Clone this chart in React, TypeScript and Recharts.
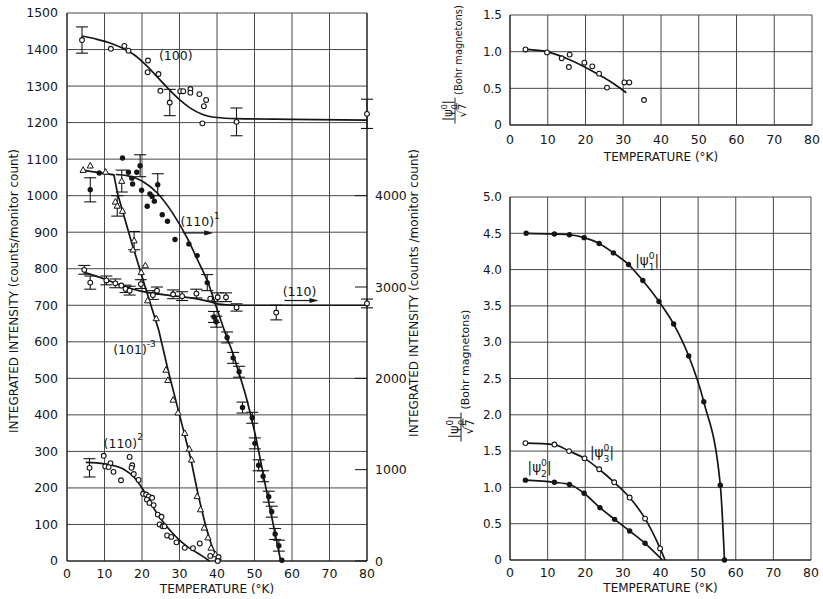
import React from "react";
import {
  ComposedChart,
  Line,
  Scatter,
  XAxis,
  YAxis,
  CartesianGrid,
  ErrorBar,
  ReferenceDot,
  Label,
} from "recharts";

const FONT = "'DejaVu Sans', 'Liberation Sans', sans-serif";
const INK = "#151515";
const GRID = "#484848";

const tempTicks = [0, 10, 20, 30, 40, 50, 60, 70, 80];
const intensityTicks = [0, 100, 200, 300, 400, 500, 600, 700, 800, 900, 1000, 1100, 1200, 1300, 1400, 1500];
const countTicks = [0, 1000, 2000, 3000, 4000];
const psi0Ticks = [0, 0.5, 1, 1.5];
const psiTicks = [0, 0.5, 1, 1.5, 2, 2.5, 3, 3.5, 4, 4.5, 5];

// (100) reflection, left axis
const pts100 = [
  { t: 4, v: 1426, e: 36 }, { t: 11.7, v: 1402 }, { t: 15.3, v: 1410 }, { t: 16.4, v: 1397 },
  { t: 21.6, v: 1370 }, { t: 21.5, v: 1338 }, { t: 24.4, v: 1333 }, { t: 24.9, v: 1287 },
  { t: 27.4, v: 1255, e: 36 }, { t: 30.2, v: 1286 }, { t: 31, v: 1286 }, { t: 32.9, v: 1292 },
  { t: 32.9, v: 1282 }, { t: 35.3, v: 1278 }, { t: 37.1, v: 1262 }, { t: 36.5, v: 1245 },
  { t: 36.1, v: 1198 }, { t: 45.2, v: 1202, e: 38 }, { t: 80, v: 1224, e: 40 },
];
const fit100 = [
  { t: 4, v: 1437 }, { t: 8, v: 1428 }, { t: 12, v: 1416 }, { t: 15, v: 1403 }, { t: 18, v: 1385 },
  { t: 21, v: 1358 }, { t: 24, v: 1326 }, { t: 27, v: 1293 }, { t: 30, v: 1263 }, { t: 33, v: 1239 },
  { t: 36, v: 1223 }, { t: 40, v: 1214 }, { t: 45, v: 1211 }, { t: 60, v: 1209 }, { t: 80, v: 1207 },
];

// (110)^1 reflection, right axis (counts)
const pts110a = [
  { t: 6.2, v: 4064, e: 132 }, { t: 8.6, v: 4248 }, { t: 14.8, v: 4412 }, { t: 16.4, v: 4256 },
  { t: 17.3, v: 4192 }, { t: 17.5, v: 4128 }, { t: 18.6, v: 4256 }, { t: 19.5, v: 4328, e: 120 },
  { t: 19.9, v: 4060 }, { t: 21.4, v: 3884 }, { t: 22.1, v: 4020 }, { t: 22.7, v: 3992 },
  { t: 23.3, v: 3940 }, { t: 24.2, v: 4120, e: 120 }, { t: 25.4, v: 3792 }, { t: 26.8, v: 3720 },
  { t: 28.8, v: 3520 }, { t: 32.5, v: 3472 }, { t: 34.7, v: 3344 }, { t: 37.4, v: 3048, e: 88 },
  { t: 39.2, v: 2672, e: 60 }, { t: 39.8, v: 2620, e: 60 }, { t: 42.7, v: 2448, e: 60 },
  { t: 44.3, v: 2224, e: 60 }, { t: 45.9, v: 2072, e: 60 }, { t: 46.8, v: 1680, e: 60 },
  { t: 49.4, v: 1568, e: 60 }, { t: 50.1, v: 1288, e: 60 }, { t: 51.1, v: 1048, e: 60 },
  { t: 52.3, v: 928, e: 60 }, { t: 53.8, v: 704, e: 60 }, { t: 54.6, v: 540, e: 60 },
  { t: 55.5, v: 296, e: 60 }, { t: 56.5, v: 168, e: 60 }, { t: 57.3, v: 8 },
];
const fit110a = [
  { t: 13, v: 4232 }, { t: 16, v: 4220 }, { t: 20, v: 4160 }, { t: 24, v: 4032 }, { t: 28, v: 3820 },
  { t: 32, v: 3540 }, { t: 35, v: 3280 }, { t: 37.5, v: 3060 }, { t: 40, v: 2760 }, { t: 42, v: 2520 },
  { t: 44, v: 2300 }, { t: 46, v: 2040 }, { t: 48, v: 1760 }, { t: 50, v: 1420 }, { t: 52, v: 1020 },
  { t: 54, v: 600 }, { t: 55.5, v: 300 }, { t: 57, v: 0 },
];

// (110) reflection, right axis (counts)
const pts110 = [
  { t: 4.6, v: 3188, e: 48 }, { t: 6.2, v: 3048, e: 72 }, { t: 10.5, v: 3072, e: 48 },
  { t: 12.9, v: 3040, e: 48 }, { t: 14.5, v: 3016 }, { t: 15.6, v: 2980, e: 40 },
  { t: 16.7, v: 2960, e: 48 }, { t: 19.7, v: 3032, e: 48 }, { t: 22.9, v: 2912, e: 48 },
  { t: 24, v: 2960, e: 40 }, { t: 28.3, v: 2920, e: 48 }, { t: 30.7, v: 2900, e: 48 },
  { t: 34.5, v: 2928, e: 48 }, { t: 38.2, v: 2872 }, { t: 40.2, v: 2888, e: 48 },
  { t: 42.4, v: 2888, e: 48 }, { t: 45.2, v: 2776, e: 40 }, { t: 55.8, v: 2720, e: 80 },
  { t: 80, v: 2820, e: 48 },
];
const fit110 = [
  { t: 4.6, v: 3160 }, { t: 10, v: 3088 }, { t: 15, v: 3008 }, { t: 20, v: 2952 }, { t: 25, v: 2920 },
  { t: 30, v: 2896 }, { t: 35, v: 2868 }, { t: 38, v: 2840 }, { t: 40, v: 2816 }, { t: 45, v: 2800 },
  { t: 80, v: 2800 },
];

// (101)^-3 reflection, left axis
const pts101 = [
  { t: 4.3, v: 1070 }, { t: 6.2, v: 1082 }, { t: 10.3, v: 1065 }, { t: 14.6, v: 1040, e: 30 },
  { t: 12.9, v: 983 }, { t: 13.4, v: 972, e: 28 }, { t: 14.8, v: 958 }, { t: 17.9, v: 877, e: 25 },
  { t: 17.6, v: 852 }, { t: 19.8, v: 790 }, { t: 20.9, v: 809 }, { t: 21.5, v: 713 },
  { t: 23.8, v: 664 }, { t: 26.4, v: 523 }, { t: 26.9, v: 495 }, { t: 28.3, v: 441 },
  { t: 29.6, v: 406 }, { t: 31.4, v: 350 }, { t: 32.6, v: 307 }, { t: 33.2, v: 277 },
  { t: 34.7, v: 177 }, { t: 35.6, v: 141 }, { t: 36.6, v: 91 }, { t: 37.6, v: 64 },
  { t: 38.4, v: 36 }, { t: 39.6, v: 18 }, { t: 40.3, v: 9 },
];
const fit101 = [
  { t: 4, v: 1070 }, { t: 8, v: 1064 }, { t: 12.5, v: 1057 }, { t: 13.5, v: 1005 }, { t: 17, v: 880 },
  { t: 21, v: 745 }, { t: 24.5, v: 630 }, { t: 27, v: 520 }, { t: 30, v: 400 }, { t: 33, v: 280 },
  { t: 35, v: 180 }, { t: 37, v: 95 }, { t: 38.5, v: 45 }, { t: 40.3, v: 0 },
];

// (110)^2 reflection, left axis
const pts110b = [
  { t: 6, v: 255, e: 25 }, { t: 9.8, v: 288 }, { t: 10.2, v: 259 }, { t: 11.6, v: 268 },
  { t: 11.1, v: 257 }, { t: 12.4, v: 244 }, { t: 14.4, v: 221 }, { t: 16.7, v: 285 },
  { t: 17.4, v: 262 }, { t: 17.2, v: 255 }, { t: 17.8, v: 238 }, { t: 19.1, v: 222 },
  { t: 20.3, v: 184 }, { t: 21.1, v: 182 }, { t: 21.8, v: 177 }, { t: 21.3, v: 168 },
  { t: 22.7, v: 173 }, { t: 22, v: 159 }, { t: 23.1, v: 153 }, { t: 24.2, v: 127 },
  { t: 25.2, v: 121 }, { t: 24.7, v: 100 }, { t: 25.5, v: 95 }, { t: 26, v: 95 },
  { t: 26.7, v: 70 }, { t: 27.8, v: 66 }, { t: 29.2, v: 51 }, { t: 31.4, v: 36 },
  { t: 33.6, v: 35 }, { t: 35.4, v: 48 }, { t: 38.2, v: 14 }, { t: 40.4, v: 11 }, { t: 40.2, v: 0 },
];
const fit110b = [
  { t: 5, v: 270 }, { t: 10, v: 266 }, { t: 15, v: 252 }, { t: 18, v: 228 }, { t: 20, v: 200 },
  { t: 22, v: 165 }, { t: 24, v: 130 }, { t: 26, v: 102 }, { t: 28, v: 78 }, { t: 30, v: 57 },
  { t: 32, v: 40 }, { t: 34, v: 27 }, { t: 36, v: 14 }, { t: 38, v: 0 },
];

// |psi_0^0| / sqrt7
const ptsPsi0 = [
  { t: 4.1, v: 1.03 }, { t: 9.8, v: 0.99 }, { t: 13.7, v: 0.91 }, { t: 15.8, v: 0.96 },
  { t: 15.6, v: 0.79 }, { t: 19.7, v: 0.85 }, { t: 21.8, v: 0.8 }, { t: 23.6, v: 0.7 },
  { t: 25.7, v: 0.51 }, { t: 30.3, v: 0.58 }, { t: 31.6, v: 0.58 }, { t: 35.5, v: 0.34 },
];
const fitPsi0 = [
  { t: 4.4, v: 1.03 }, { t: 9.7, v: 1.0 }, { t: 15.8, v: 0.89 }, { t: 22, v: 0.73 },
  { t: 27.3, v: 0.57 }, { t: 30.8, v: 0.44 },
];

// |psi_1^0|, |psi_2^0|, |psi_3^0|
const ptsPsi1 = [
  { t: 4.3, v: 4.5 }, { t: 11.8, v: 4.49 }, { t: 15.8, v: 4.48 }, { t: 19.7, v: 4.44 },
  { t: 23.7, v: 4.36 }, { t: 27.5, v: 4.23 }, { t: 31.5, v: 4.07 }, { t: 35.3, v: 3.85 },
  { t: 39.6, v: 3.56 }, { t: 43.5, v: 3.25 }, { t: 47.5, v: 2.81 }, { t: 51.5, v: 2.18 },
  { t: 55.9, v: 1.03 }, { t: 57.0, v: 0 },
];
const ptsPsi3 = [
  { t: 4.1, v: 1.61 }, { t: 11.8, v: 1.59 }, { t: 15.7, v: 1.5 }, { t: 19.8, v: 1.4 },
  { t: 23.7, v: 1.25 }, { t: 27.7, v: 1.07 }, { t: 31.8, v: 0.86 }, { t: 35.9, v: 0.57 },
  { t: 39.9, v: 0.16 },
];
const fitPsi3 = [...ptsPsi3, { t: 41.2, v: 0 }];
const ptsPsi2 = [
  { t: 4.1, v: 1.1 }, { t: 11.8, v: 1.07 }, { t: 15.8, v: 1.04 }, { t: 19.7, v: 0.92 },
  { t: 23.9, v: 0.72 }, { t: 27.8, v: 0.56 }, { t: 31.8, v: 0.4 }, { t: 35.9, v: 0.23 },
];
const fitPsi2 = [...ptsPsi2, { t: 40.5, v: 0 }];

const openCircle = (p: any) => (
  <circle cx={p.cx} cy={p.cy} r={2.4} fill="#fff" stroke={INK} strokeWidth={1.1} />
);
const dotCircle = (p: any) => <circle cx={p.cx} cy={p.cy} r={2.7} fill={INK} />;
const openTriangle = (p: any) => (
  <path
    d={`M${p.cx},${p.cy - 3.3}L${p.cx + 3.1},${p.cy + 2.3}L${p.cx - 3.1},${p.cy + 2.3}Z`}
    fill="#fff"
    stroke={INK}
    strokeWidth={1}
  />
);

const tickStyle = { fill: INK, fontSize: 12.5, fontFamily: FONT };

function tag(text: string, sup?: string) {
  return (p: any) => (
    <text x={p.cx} y={p.cy} textAnchor="middle" dominantBaseline="central" fontFamily={FONT} fontSize={12.5} fill={INK}>
      {text}
      {sup && (
        <tspan dy={-6} fontSize={9}>
          {sup}
        </tspan>
      )}
    </text>
  );
}

function arrow(len: number) {
  return (p: any) => (
    <g>
      <line x1={p.cx} x2={p.cx + len - 6} y1={p.cy} y2={p.cy} stroke={INK} strokeWidth={1.2} />
      <path d={`M${p.cx + len},${p.cy} l-9,-2.6 l0,5.2 Z`} fill={INK} />
    </g>
  );
}

function Psi({ x, y, sub, size = 12 }: { x: number; y: number; sub: string; size?: number }) {
  return (
    <text x={x} y={y} fontFamily={FONT} fontSize={size} fill={INK}>
      |ψ
      <tspan dy={-size * 0.42} fontSize={size * 0.68}>0</tspan>
      <tspan dx={-size * 0.43} dy={size * 0.78} fontSize={size * 0.68}>{sub}</tspan>
      <tspan dy={-size * 0.36}>|</tspan>
    </text>
  );
}

function psiTag(sub: string) {
  return (p: any) => <Psi x={p.cx - 14} y={p.cy + 5} sub={sub} size={13.5} />;
}

function FracLabel({ cx, cy, sub, s = 1 }: { cx: number; cy: number; sub: string; s?: number }) {
  return (
    <g transform={`translate(${cx},${cy}) rotate(-90) scale(${s})`}>
      <Psi x={-60} y={-3} sub={sub} size={13} />
      <line x1={-63} x2={-34} y1={0} y2={0} stroke={INK} strokeWidth={1} />
      <text x={-56} y={12} fontFamily={FONT} fontSize={12} fill={INK}>√</text>
      <line x1={-48.5} x2={-40} y1={2} y2={2} stroke={INK} strokeWidth={0.9} />
      <text x={-48} y={12.5} fontFamily={FONT} fontSize={11.5} fill={INK}>7</text>
      <text x={-31} y={8} fontFamily={FONT} fontSize={11} fill={INK}>(Bohr magnetons)</text>
    </g>
  );
}

const xTitle = (dy: number) => (props: any) => {
  const vb = props.viewBox || {};
  return (
    <text x={vb.x + vb.width / 2} y={vb.y + dy} textAnchor="middle" fontFamily={FONT} fontSize={12} fill={INK}>
      TEMPERATURE (°K)
    </text>
  );
};

const CountTick = (p: any) => {
  const ax = p.x - 8;
  return (
    <g>
      <line x1={ax - 12} x2={ax} y1={p.y} y2={p.y} stroke={INK} strokeWidth={1} />
      <text x={p.x} y={p.y} dy="0.36em" fontFamily={FONT} fontSize={12.5} fill={INK}>
        {p.payload.value}
      </text>
    </g>
  );
};

const psiFmt = (v: number) => (v === 0 ? "0" : v.toFixed(1));

function IntensityChart() {
  return (
    <ComposedChart width={430} height={599} margin={{ top: 13, right: 0, bottom: 0, left: 0 }}>
      <CartesianGrid yAxisId="left" stroke={GRID} strokeWidth={1} />
      <XAxis
        type="number"
        dataKey="t"
        domain={[0, 80]}
        ticks={tempTicks}
        interval={0}
        height={38}
        tickSize={0}
        tickMargin={8}
        tickLine={false}
        axisLine={{ stroke: INK }}
        tick={tickStyle}
      >
        <Label content={xTitle(32)} />
      </XAxis>
      <YAxis
        yAxisId="left"
        type="number"
        domain={[0, 1500]}
        ticks={intensityTicks}
        interval={0}
        width={67}
        tickSize={0}
        tickMargin={9}
        tickLine={false}
        axisLine={{ stroke: INK }}
        tick={tickStyle}
      >
        <Label
          content={(props: any) => {
            const vb = props.viewBox || {};
            const cy = vb.y + vb.height / 2 + 4;
            return (
              <text x={18} y={cy} transform={`rotate(-90, 18, ${cy})`} textAnchor="middle" fontFamily={FONT} fontSize={12} fill={INK}>
                INTEGRATED INTENSITY (counts/monitor count)
              </text>
            );
          }}
        />
      </YAxis>
      <YAxis
        yAxisId="right"
        orientation="right"
        type="number"
        domain={[0, 6000]}
        ticks={countTicks}
        interval={0}
        width={63}
        tickSize={0}
        tickMargin={8}
        tickLine={false}
        axisLine={{ stroke: INK }}
        tick={CountTick}
      >
        <Label
          content={(props: any) => {
            const vb = props.viewBox || {};
            const x = vb.x + 51;
            const cy = vb.y + vb.height / 2 + 6;
            return (
              <text x={x} y={cy} transform={`rotate(-90, ${x}, ${cy})`} textAnchor="middle" fontFamily={FONT} fontSize={12} fill={INK}>
                INTEGRATED INTENSITY (counts /monitor count)
              </text>
            );
          }}
        />
      </YAxis>

      <Line yAxisId="left" data={fit100} dataKey="v" type="monotone" stroke={INK} strokeWidth={1.7} dot={false} isAnimationActive={false} />
      <Line yAxisId="left" data={fit101} dataKey="v" type="linear" stroke={INK} strokeWidth={1.7} dot={false} isAnimationActive={false} />
      <Line yAxisId="left" data={fit110b} dataKey="v" type="monotone" stroke={INK} strokeWidth={1.7} dot={false} isAnimationActive={false} />
      <Line yAxisId="right" data={fit110a} dataKey="v" type="monotone" stroke={INK} strokeWidth={1.7} dot={false} isAnimationActive={false} />
      <Line yAxisId="right" data={fit110} dataKey="v" type="monotone" stroke={INK} strokeWidth={1.7} dot={false} isAnimationActive={false} />

      <Scatter yAxisId="left" data={pts100} dataKey="v" shape={openCircle} isAnimationActive={false}>
        <ErrorBar dataKey="e" direction="y" width={6} stroke={INK} strokeWidth={1.1} />
      </Scatter>
      <Scatter yAxisId="left" data={pts101} dataKey="v" shape={openTriangle} isAnimationActive={false}>
        <ErrorBar dataKey="e" direction="y" width={6} stroke={INK} strokeWidth={1.1} />
      </Scatter>
      <Scatter yAxisId="left" data={pts110b} dataKey="v" shape={openCircle} isAnimationActive={false}>
        <ErrorBar dataKey="e" direction="y" width={6} stroke={INK} strokeWidth={1.1} />
      </Scatter>
      <Scatter yAxisId="right" data={pts110a} dataKey="v" shape={dotCircle} isAnimationActive={false}>
        <ErrorBar dataKey="e" direction="y" width={6} stroke={INK} strokeWidth={1.1} />
      </Scatter>
      <Scatter yAxisId="right" data={pts110} dataKey="v" shape={openCircle} isAnimationActive={false}>
        <ErrorBar dataKey="e" direction="y" width={6} stroke={INK} strokeWidth={1.1} />
      </Scatter>

      <ReferenceDot yAxisId="left" x={29} y={1385} r={0} shape={tag("(100)")} />
      <ReferenceDot yAxisId="left" x={35.5} y={928} r={0} shape={tag("(110)", "1")} />
      <ReferenceDot yAxisId="left" x={31} y={898} r={0} shape={arrow(30)} />
      <ReferenceDot yAxisId="left" x={62} y={738} r={0} shape={tag("(110)")} />
      <ReferenceDot yAxisId="left" x={58} y={713} r={0} shape={arrow(34)} />
      <ReferenceDot yAxisId="left" x={18} y={578} r={0} shape={tag("(101)", "-3")} />
      <ReferenceDot yAxisId="left" x={15} y={322} r={0} shape={tag("(110)", "2")} />
    </ComposedChart>
  );
}

function Psi0Chart() {
  return (
    <ComposedChart width={393} height={165} margin={{ top: 15, right: 11, bottom: 0, left: 0 }}>
      <CartesianGrid stroke={GRID} strokeWidth={1} />
      <XAxis
        type="number"
        dataKey="t"
        domain={[0, 80]}
        ticks={tempTicks}
        interval={0}
        height={40}
        tickSize={0}
        tickMargin={10}
        tickLine={false}
        axisLine={{ stroke: INK }}
        tick={tickStyle}
      >
        <Label content={xTitle(36)} />
      </XAxis>
      <YAxis
        type="number"
        domain={[0, 1.5]}
        ticks={psi0Ticks}
        interval={0}
        width={80}
        tickSize={0}
        tickMargin={8}
        tickLine={false}
        axisLine={{ stroke: INK }}
        tick={{ ...tickStyle, fontSize: 12 }}
        tickFormatter={psiFmt}
      >
        <Label
          content={(props: any) => {
            const vb = props.viewBox || {};
            return <FracLabel cx={vb.x + 25} cy={vb.y + vb.height / 2 - 3} sub="0" s={0.9} />;
          }}
        />
      </YAxis>
      <Line data={fitPsi0} dataKey="v" type="monotone" stroke={INK} strokeWidth={1.7} dot={false} isAnimationActive={false} />
      <Scatter data={ptsPsi0} dataKey="v" shape={openCircle} isAnimationActive={false} />
    </ComposedChart>
  );
}

function PsiChart() {
  return (
    <ComposedChart width={393} height={419} margin={{ top: 17, right: 12, bottom: 0, left: 0 }}>
      <CartesianGrid stroke={GRID} strokeWidth={1} />
      <XAxis
        type="number"
        dataKey="t"
        domain={[0, 80]}
        ticks={tempTicks}
        interval={0}
        height={39}
        tickSize={0}
        tickMargin={8}
        tickLine={false}
        axisLine={{ stroke: INK }}
        tick={tickStyle}
      >
        <Label content={xTitle(32)} />
      </XAxis>
      <YAxis
        type="number"
        domain={[0, 5]}
        ticks={psiTicks}
        interval={0}
        width={80}
        tickSize={0}
        tickMargin={8}
        tickLine={false}
        axisLine={{ stroke: INK }}
        tick={{ ...tickStyle, fontSize: 12 }}
        tickFormatter={psiFmt}
      >
        <Label
          content={(props: any) => {
            const vb = props.viewBox || {};
            return <FracLabel cx={vb.x + 31} cy={vb.y + vb.height / 2} sub="ρ" />;
          }}
        />
      </YAxis>
      <Line data={ptsPsi1} dataKey="v" type="monotone" stroke={INK} strokeWidth={1.7} dot={false} isAnimationActive={false} />
      <Line data={fitPsi3} dataKey="v" type="monotone" stroke={INK} strokeWidth={1.7} dot={false} isAnimationActive={false} />
      <Line data={fitPsi2} dataKey="v" type="monotone" stroke={INK} strokeWidth={1.7} dot={false} isAnimationActive={false} />
      <Scatter data={ptsPsi1} dataKey="v" shape={dotCircle} isAnimationActive={false} />
      <Scatter data={ptsPsi3} dataKey="v" shape={openCircle} isAnimationActive={false} />
      <Scatter data={ptsPsi2} dataKey="v" shape={dotCircle} isAnimationActive={false} />
      <ReferenceDot x={37} y={4.13} r={0} shape={psiTag("1")} />
      <ReferenceDot x={25} y={1.49} r={0} shape={psiTag("3")} />
      <ReferenceDot x={8.4} y={1.28} r={0} shape={psiTag("2")} />
    </ComposedChart>
  );
}

export default function App() {
  return (
    <div style={{ position: "absolute", left: 0, top: 0, width: 823, height: 599, background: "#fff", overflow: "hidden" }}>
      <div style={{ position: "absolute", left: 0, top: 0 }}>
        <IntensityChart />
      </div>
      <div style={{ position: "absolute", left: 430, top: 0 }}>
        <Psi0Chart />
      </div>
      <div style={{ position: "absolute", left: 430, top: 180 }}>
        <PsiChart />
      </div>
    </div>
  );
}
